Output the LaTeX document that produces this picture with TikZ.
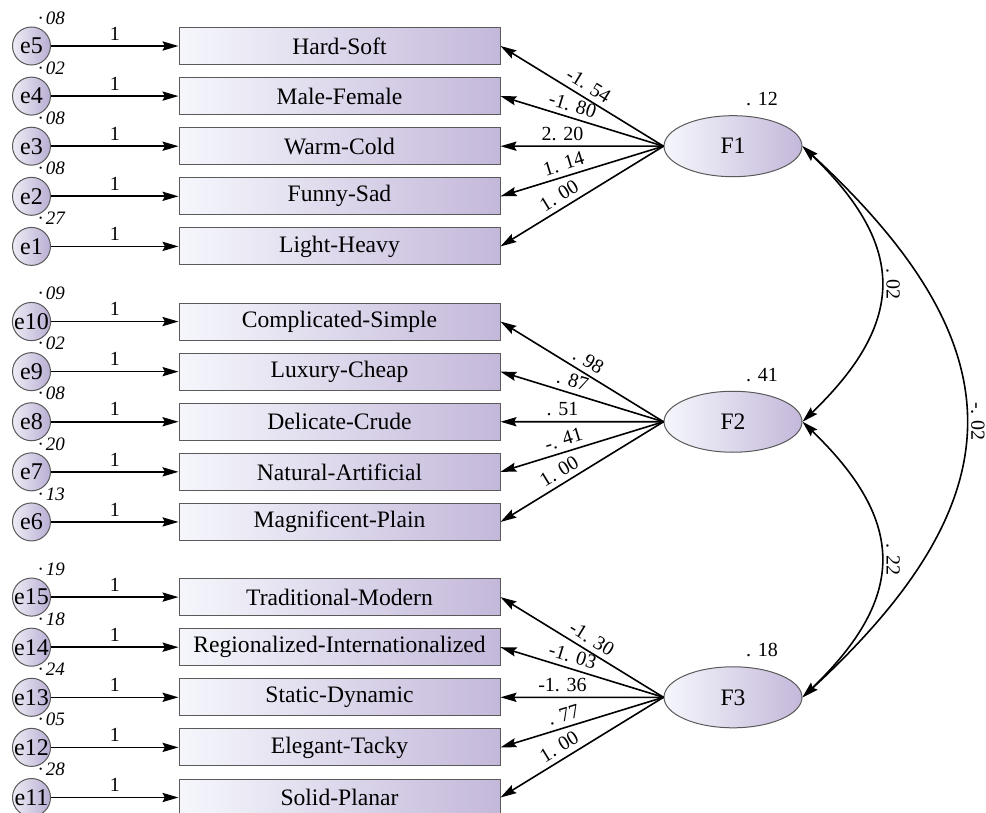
\documentclass[tikz,border=0pt]{standalone}
\usepackage{fontspec}
\setmainfont{Liberation Serif}
\usetikzlibrary{arrows.meta,shapes.geometric}

\definecolor{paleblue}{HTML}{F5F7FC}
\definecolor{lilac}{HTML}{C4B8DA}
\definecolor{errpale}{HTML}{EEECF5}
\definecolor{errlilac}{HTML}{B9AED3}

\tikzset{
  item/.style={draw=black!65, line width=0.5pt, left color=paleblue, right color=lilac,
    minimum width=160.5pt, minimum height=18.5pt, inner sep=0pt,
    font=\fontsize{11.8}{14}\selectfont},
  err/.style={circle, draw=black!65, line width=0.5pt, left color=errpale, right color=errlilac,
    minimum size=19pt, inner sep=0pt, font=\fontsize{12}{14}\selectfont},
  factor/.style={ellipse, draw=black!65, line width=0.5pt, left color=paleblue, right color=lilac,
    minimum width=69pt, minimum height=30.5pt, inner sep=0pt, font=\fontsize{11.8}{14}\selectfont},
  tip/.tip={Stealth[length=8pt, width=4.6pt, inset=1.2pt]},
  link/.style={line width=0.8pt, -tip},
  covar/.style={line width=0.8pt, tip-tip},
  num/.style={font=\fontsize{10}{12}\selectfont, inner sep=2.5pt},
  evar/.style={font=\fontsize{9.5}{11}\selectfont\itshape, inner sep=0pt},
  cov/.style={num, rotate=-90, anchor=south}
}

\begin{document}
\begin{tikzpicture}[x=0.5pt, y=-0.5pt]
\useasboundingbox (0,0) rectangle (986,813);

% observed items with their error terms
\foreach \k/\n/\txt/\ev in {0/5/Hard-Soft/08, 1/4/Male-Female/02, 2/3/Warm-Cold/08,
    3/2/Funny-Sad/08, 4/1/Light-Heavy/27,
    5.5/10/Complicated-Simple/09, 6.5/9/Luxury-Cheap/02, 7.5/8/Delicate-Crude/08,
    8.5/7/Natural-Artificial/20, 9.5/6/Magnificent-Plain/13,
    11/15/Traditional-Modern/19, 12/14/Regionalized-Internationalized/18,
    13/13/Static-Dynamic/24, 14/12/Elegant-Tacky/05, 15/11/Solid-Planar/28}
{
  \node[err] (e\n) at (31.5, 46+50.1*\k) {e\n};
  \node[item] (m\n) at (339.5, 46+50.1*\k) {\txt};
  \node[evar] (ev\n) at ([xshift=10pt, yshift=14pt]e\n.center) {·\,\ev};
  \draw[link] (e\n) -- node[num, above] {1} (m\n);
}

% latent factors
\node[factor] (F1) at (733, 146.2) {F1};
\node[factor] (F2) at (733, 421.75) {F2};
\node[factor] (F3) at (733, 697.3) {F3};
\node[num] (v1) at ([xshift=14.5pt, yshift=8pt]F1.north) {. 12};
\node[num] (v2) at ([xshift=14.5pt, yshift=8pt]F2.north) {. 41};
\node[num] (v3) at ([xshift=14.5pt, yshift=8pt]F3.north) {. 18};

% loadings
\foreach \n/\v/\p in {5/-1. 54/0.5, 4/-1. 80/0.58, 3/2. 20/0.62, 2/1. 14/0.59, 1/1. 00/0.6}
  \draw[link] (F1.west) -- node[num, sloped, above, pos=\p] {\v} (m\n.east);
\foreach \n/\v/\p in {10/. 98/0.5, 9/. 87/0.58, 8/. 51/0.62, 7/-. 41/0.59, 6/1. 00/0.6}
  \draw[link] (F2.west) -- node[num, sloped, above, pos=\p] {\v} (m\n.east);
\foreach \n/\v/\p in {15/-1. 30/0.48, 14/-1. 03/0.58, 13/-1. 36/0.62, 12/. 77/0.59, 11/1. 00/0.6}
  \draw[link] (F3.west) -- node[num, sloped, above, pos=\p] {\v} (m\n.east);

% covariances
\draw[covar] (F1.east) .. controls +(104,100) and +(104,-100) .. (F2.east) node[cov, pos=0.5] {. 02};
\draw[covar] (F2.east) .. controls +(104,100) and +(104,-100) .. (F3.east) node[cov, pos=0.5] {. 22};
\draw[covar] (F1.east) .. controls +(217,200) and +(217,-200) .. (F3.east) node[cov, pos=0.5] {-. 02};
\end{tikzpicture}
\end{document}
